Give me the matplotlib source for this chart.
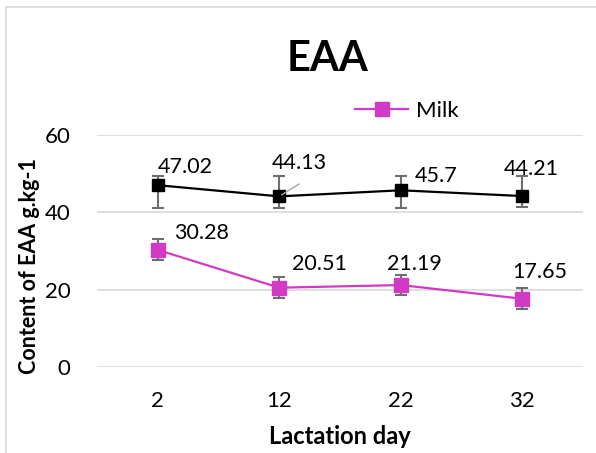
import numpy as np
import matplotlib.pyplot as plt
from matplotlib.lines import Line2D

plt.rcParams['font.family'] = ['Lato', 'DejaVu Sans']

# data
days = ['2', '12', '22', '32']
milk = [30.28, 20.51, 21.19, 17.65]
milk_err_lo = [2.5, 2.6, 2.6, 2.6]
milk_err_hi = [2.8, 2.8, 2.6, 2.7]
other = [47.02, 44.13, 45.7, 44.21]
other_err_lo = [5.9, 3.0, 4.6, 2.8]
other_err_hi = [2.4, 5.3, 3.6, 5.1]

# label offsets in pixels (dx, dy) from each point, text left-aligned
other_lab = [(0, 18), (-8, 33), (14, 14), (-18, 27)]
milk_lab = [(16, 17), (13, 24), (-14, 21), (-10, 27)]

magenta = '#D23AC4'
errcol = '#6E6E6E'

fig = plt.figure(figsize=(5.96, 4.53), dpi=100)
ax = fig.add_axes([97/596, 86/453, 486/596, 232/453])

x = np.arange(len(days))

ax.errorbar(x, other, yerr=[other_err_lo, other_err_hi], fmt='none',
            ecolor=errcol, elinewidth=1.5, capsize=4.5, capthick=1.5, zorder=2)
ax.plot(x, other, color='black', lw=1.6, marker='s', ms=8, zorder=3)

ax.errorbar(x, milk, yerr=[milk_err_lo, milk_err_hi], fmt='none',
            ecolor=errcol, elinewidth=1.5, capsize=4.5, capthick=1.5, zorder=2)
line_milk, = ax.plot(x, milk, color=magenta, lw=1.6, marker='s', ms=9.5,
                     zorder=3, label='Milk')

for i, v in enumerate(other):
    dx, dy = other_lab[i]
    ax.annotate(f'{v:g}', (x[i], v), xytext=(dx*0.72, dy*0.72),
                textcoords='offset points', ha='left', va='center',
                fontsize=15.5, color='black', zorder=4)
for i, v in enumerate(milk):
    dx, dy = milk_lab[i]
    ax.annotate(f'{v:g}', (x[i], v), xytext=(dx*0.72, dy*0.72),
                textcoords='offset points', ha='left', va='center',
                fontsize=15.5, color='black', zorder=4)

# leader line for 44.13
ax.annotate('', (x[1], other[1]), xytext=(16, 10), textcoords='offset points',
            arrowprops=dict(arrowstyle='-', color='#A6A6A6', lw=1))

ax.set_xlim(-0.5, len(days) - 0.5)
ax.set_ylim(0, 60)
ax.set_yticks([0, 20, 40, 60])
ax.set_xticks(x)
ax.set_xticklabels(days)
ax.tick_params(length=0, labelsize=16)
ax.tick_params(axis='y', pad=19)
ax.tick_params(axis='x', pad=17)
ax.grid(axis='y', color='#D9D9D9', lw=1.2)
ax.set_axisbelow(True)
for s in ax.spines.values():
    s.set_visible(False)

ax.set_xlabel('Lactation day', fontsize=17, fontweight='bold', va='center')
ax.xaxis.set_label_coords(0.5, (367 - 436)/232)
ax.set_ylabel('Content of EAA g.kg-1', fontsize=15.5, fontweight='bold', va='center')
ax.yaxis.set_label_coords((30 - 97)/486, (367 - 266)/232)

fig.text(327/596, 1 - 71/453, 'EAA', ha='center', va='baseline',
         fontsize=30, fontweight='bold')

ax.legend(handles=[line_milk], loc='center left',
          bbox_to_anchor=(355/596, 1 - 111/453), bbox_transform=fig.transFigure,
          frameon=False, borderpad=0, borderaxespad=0, handlelength=2.4,
          handletextpad=0.35, fontsize=16)

# chart border (left and top visible)
fig.add_artist(Line2D([6/596, 6/596], [0, 1 - 7/453], color='#D9D9D9', lw=1.2))
fig.add_artist(Line2D([6/596, 1], [1 - 7/453, 1 - 7/453], color='#D9D9D9', lw=1.2))

fig.savefig('out.png', dpi=100)
